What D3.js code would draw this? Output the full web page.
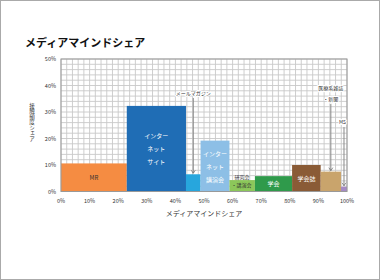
<!DOCTYPE html>
<html><head><meta charset="utf-8">
<script src="https://cdn.jsdelivr.net/npm/d3@7"></script>
<style>
body{margin:0;background:#fff;}
svg{display:block;font-family:"Noto Sans CJK JP","Noto Sans",sans-serif;}
</style></head>
<body><svg id="chart" width="380" height="280"></svg>
<script>
// media categories (marimekko: width = mind share, height = contact share)
const categories = ["MR", "インターネットサイト", "メールマガジン", "インターネット講演会", "研究会・講演会", "学会", "学会誌", "医療系雑誌・新聞", "MS"];
const widthShare = [23, 20.7, 5.1, 10.1, 8.9, 13, 10, 7.1, 2.1];
const heightShare = [10.6, 32.3, 6.5, 19.2, 4.3, 5.8, 10, 7.5, 1.8];
const colors = ["#f58c42", "#1f6db5", "#27a6dd", "#8dbfe6", "#8cc75a", "#2f9a4b", "#8a5b36", "#c9a46c", "#a58ac6"];
const xTicks = [0, 10, 20, 30, 40, 50, 60, 70, 80, 90, 100];
const yTicks = [0, 10, 20, 30, 40, 50];

const svg = d3.select("#chart");
const m = {left: 61, right: 347, top: 59, bottom: 191.5};

svg.append("rect").attr("x", 0.5).attr("y", 0.5).attr("width", 379).attr("height", 279)
    .attr("fill", "#fff").attr("stroke", "#aaa");

svg.append("text").attr("x", 25).attr("y", 47).attr("font-size", 11).attr("font-weight", "bold")
    .attr("fill", "#111").text("メディアマインドシェア");

const x = d3.scaleLinear().domain([0, 100]).range([m.left, m.right]);
const y = d3.scaleLinear().domain([0, 50]).range([m.bottom, m.top]);

// 2% grid
const g = svg.append("g");
g.selectAll("line.vx").data(d3.range(0, 101, 2)).join("line")
    .attr("x1", d => x(d)).attr("x2", d => x(d)).attr("y1", m.top).attr("y2", m.bottom)
    .attr("stroke", "#c8c8c8").attr("stroke-width", 0.9);
g.selectAll("line.hy").data(d3.range(0, 51, 2)).join("line")
    .attr("y1", d => y(d)).attr("y2", d => y(d)).attr("x1", m.left).attr("x2", m.right)
    .attr("stroke", "#c8c8c8").attr("stroke-width", 0.9);

// bars
const starts = [];
widthShare.reduce((acc, w) => { starts.push(acc); return acc + w; }, 0);
const bars = categories.map((c, i) => ({c, x0: starts[i], x1: starts[i] + widthShare[i], h: heightShare[i], color: colors[i]}));

svg.append("g").selectAll("rect").data(bars).join("rect")
    .attr("x", d => x(d.x0)).attr("width", d => x(d.x1) - x(d.x0))
    .attr("y", d => y(d.h)).attr("height", d => y(0) - y(d.h))
    .attr("fill", d => d.color);

svg.append("rect").attr("x", m.left).attr("y", m.top).attr("width", m.right - m.left).attr("height", m.bottom - m.top)
    .attr("fill", "none").attr("stroke", "#999");

// axes labels
svg.append("g").selectAll("text").data(xTicks).join("text")
    .attr("x", d => x(d)).attr("y", m.bottom + 11).attr("text-anchor", "middle")
    .attr("font-size", 5.5).attr("fill", "#333").text(d => d + "%");
svg.append("g").selectAll("text").data(yTicks).join("text")
    .attr("x", m.left - 5).attr("y", d => y(d) + 2).attr("text-anchor", "end")
    .attr("font-size", 5.5).attr("fill", "#333").text(d => d + "%");

svg.append("text").attr("x", x(50)).attr("y", 216).attr("text-anchor", "middle")
    .attr("font-size", 7).attr("fill", "#333").text("メディアマインドシェア");

// vertical y title
svg.append("text").attr("x", 32).attr("y", 103)
    .style("writing-mode", "vertical-rl").style("text-orientation", "upright")
    .attr("font-size", 5.5).attr("fill", "#333").text("接触頻度シェア");

// labels inside bars
const inside = [
    {i: 0, lines: ["MR"], fill: "#333"},
    {i: 1, lines: ["インター", "ネット", "サイト"], fill: "#fff"},
    {i: 3, lines: ["インター", "ネット", "講演会"], fill: "#fff"},
    {i: 5, lines: ["学会"], fill: "#fff"},
    {i: 6, lines: ["学会誌"], fill: "#fff"}
];
inside.forEach(l => {
    const b = bars[l.i];
    const cx = x((b.x0 + b.x1) / 2);
    const cy = (y(b.h) + y(0)) / 2;
    const gap = 13;
    l.lines.forEach((t, k) => {
        svg.append("text").attr("x", cx).attr("y", cy + (k - (l.lines.length - 1) / 2) * gap + 2.5)
            .attr("text-anchor", "middle").attr("font-size", 6).attr("fill", l.fill).text(t);
    });
});

// research meeting label straddling bar top
const rb = bars[4];
svg.append("text").attr("x", x(rb.x0) + 5).attr("y", y(rb.h) - 1).attr("font-size", 5)
    .attr("fill", "#333").text("研究会");
svg.append("text").attr("x", x(rb.x0) + 2).attr("y", y(rb.h) + 7).attr("font-size", 5)
    .attr("fill", "#333").text("・講演会");

// callouts (label level in % of y axis)
const callouts = [
    {i: 2, lines: ["メールマガジン"], level: 37.2},
    {i: 7, lines: ["医療系雑誌", "・新聞"], level: 39},
    {i: 8, lines: ["MS"], level: 26.2}
];
callouts.forEach(co => {
    const b = bars[co.i];
    const cx = x((b.x0 + b.x1) / 2);
    const top = y(co.level) + (co.lines.length - 1) * 10.5 + 5;
    const bot = y(b.h) - 1;
    svg.append("line").attr("x1", cx).attr("x2", cx).attr("y1", top).attr("y2", bot)
        .attr("stroke", "#888").attr("stroke-width", 1);
    svg.append("path").attr("d", `M${cx - 2},${bot - 3}L${cx},${bot}L${cx + 2},${bot - 3}`)
        .attr("fill", "none").attr("stroke", "#666").attr("stroke-width", 0.7);
    co.lines.forEach((t, k) => {
        svg.append("text").attr("x", cx).attr("y", y(co.level) + k * 10.5 + 2)
            .attr("text-anchor", co.i === 8 ? "end" : "middle").attr("dx", co.i === 8 ? 2 : 0)
            .attr("font-size", 5).attr("fill", "#333")
            .attr("stroke", "#fff").attr("stroke-width", 2).attr("paint-order", "stroke").text(t);
    });
});
</script></body></html>
